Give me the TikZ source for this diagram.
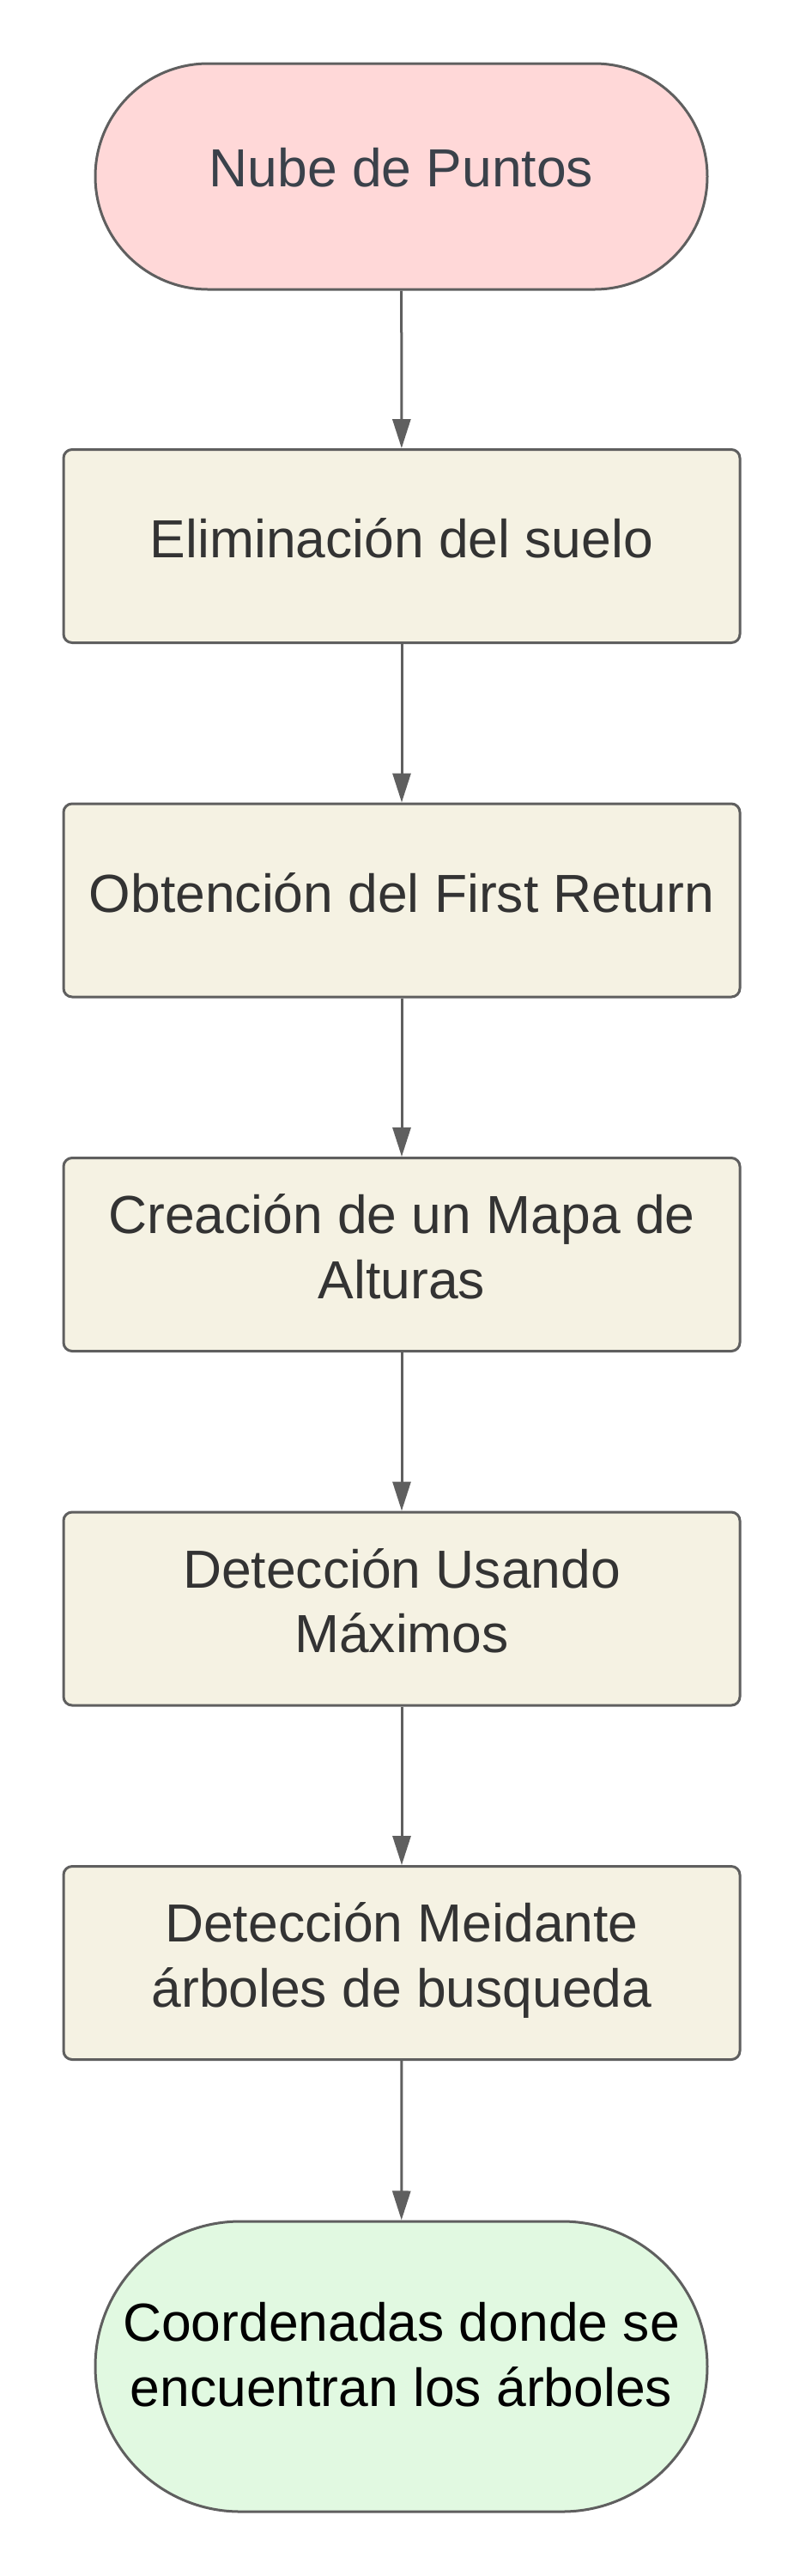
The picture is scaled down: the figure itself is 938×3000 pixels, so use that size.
\documentclass[tikz,border=0pt]{standalone}
\usepackage{fontspec}
\setmainfont{Liberation Sans}
\usetikzlibrary{arrows.meta, shapes.misc}
\definecolor{edgegrey}{HTML}{5F5F5F}
\definecolor{startfill}{HTML}{FFD8D8}
\definecolor{stepfill}{HTML}{F5F2E3}
\definecolor{endfill}{HTML}{E1F9E1}
\definecolor{starttext}{HTML}{3A414A}
\definecolor{steptext}{HTML}{333333}

\begin{document}
\begin{tikzpicture}[x=0.5pt,y=-0.5pt,>={Triangle[length=17pt,width=10.5pt]},
  terminal/.style={rounded rectangle,draw=edgegrey,line width=1.5pt,inner sep=0pt,
    minimum width=356.5pt,align=center,font=\fontsize{31.2}{37.8}\selectfont},
  stepbox/.style={rectangle,rounded corners=5pt,draw=edgegrey,fill=stepfill,text=steptext,
    line width=1.5pt,inner sep=0pt,minimum width=394pt,minimum height=112.5pt,
    text depth=9.4pt,align=center,font=\fontsize{31.2}{37.8}\selectfont},
  flow/.style={->,draw=edgegrey,line width=1.5pt}]

\useasboundingbox (0,0) rectangle (938,3000);

% Start
\node[terminal,fill=startfill,text=starttext,minimum height=131.5pt,text depth=10.5pt] (cloud) at (467.5,205.5) {Nube de Puntos};

% Steps
\node[stepbox] (ground) at (468,636) {Eliminación del suelo};
\node[stepbox] (first) at (468,1048.5) {Obtención del First Return};
\node[stepbox] (heights) at (468,1461) {Creación de un Mapa de\\Alturas};
\node[stepbox] (maxima) at (468,1873.5) {Detección Usando\\Máximos};
\node[stepbox] (trees) at (468,2286) {Detección Meidante\\árboles de busqueda};

% End
\node[terminal,fill=endfill,text=black,minimum height=169pt,text depth=14.1pt] (coords) at (467.5,2756) {Coordenadas donde se\\encuentran los árboles};

% Arrows
\draw[flow] (cloud) -- (ground);
\draw[flow] (ground) -- (first);
\draw[flow] (first) -- (heights);
\draw[flow] (heights) -- (maxima);
\draw[flow] (maxima) -- (trees);
\draw[flow] (trees) -- (coords);

\end{tikzpicture}
\end{document}
